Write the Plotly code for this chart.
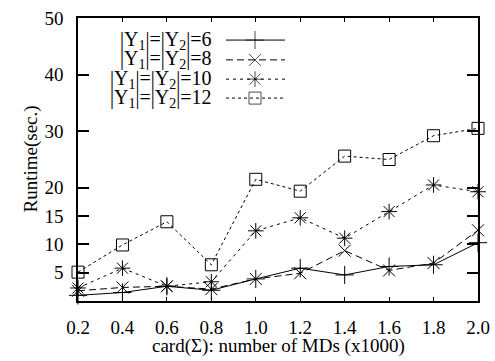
import plotly.graph_objects as go

x_vals = [0.2, 0.4, 0.6, 0.8, 1.0, 1.2, 1.4, 1.6, 1.8, 2.0]
y6 = [1.0, 1.5, 2.6, 1.9, 3.9, 5.8, 4.6, 6.1, 6.4, 10.3]
y8 = [1.8, 2.4, 2.6, 2.1, 3.9, 4.9, 8.9, 5.4, 6.7, 12.5]
y10 = [2.3, 5.8, 2.6, 3.4, 12.4, 14.7, 11.1, 15.8, 20.5, 19.3]
y12 = [5.1, 9.9, 14.0, 6.4, 21.5, 19.4, 25.6, 25.0, 29.2, 30.5]
labels = ["|Y<sub>1</sub>|=|Y<sub>2</sub>|=6", "|Y<sub>1</sub>|=|Y<sub>2</sub>|=8",
          "|Y<sub>1</sub>|=|Y<sub>2</sub>|=10", "|Y<sub>1</sub>|=|Y<sub>2</sub>|=12"]
x_ticks = [0.2, 0.4, 0.6, 0.8, 1.0, 1.2, 1.4, 1.6, 1.8, 2.0]
x_ticktext = ["0.2", "0.4", "0.6", "0.8", "1.0", "1.2", "1.4", "1.6", "1.8", "2.0"]
y_ticks = [5, 10, 15, 20, 30, 40, 50]
x_title = "card(Σ): number of MDs (x1000)"
y_title = "Runtime(sec.)"

FONT = "Liberation Serif, Times New Roman, serif"
FS = 19
styles = [
    dict(dash="solid", symbol="cross-thin-open", size=13),
    dict(dash="7px,4px", symbol="x-thin-open", size=12),
    dict(dash="3px,4px", symbol="asterisk-open", size=13),
    dict(dash="dot", symbol="square-open", size=12),
]
series = [y6, y8, y10, y12]

fig = go.Figure()
for ys, st, lab in zip(series, styles, labels):
    fig.add_trace(go.Scatter(
        x=x_vals, y=ys, mode="lines+markers", showlegend=False, name=lab,
        line=dict(color="black", width=1, dash=st["dash"]),
        marker=dict(symbol=st["symbol"], size=st["size"], color="black",
                    line=dict(color="black", width=1)),
        cliponaxis=False,
    ))

# manual legend (text left, sample right) in an overlay axis spanning the plot area
leg_rows = [0.922, 0.852, 0.784, 0.717]
for st, lab, ry in zip(styles, labels, leg_rows):
    fig.add_trace(go.Scatter(
        x=[0.37, 0.4425, 0.5175], y=[ry, ry, ry], xaxis="x2", yaxis="y2",
        mode="lines+markers", showlegend=False, hoverinfo="skip",
        line=dict(color="black", width=1, dash=st["dash"]),
        marker=dict(symbol=st["symbol"], size=[0, st["size"], 0], color="black",
                    line=dict(color="black", width=1)),
    ))
    fig.add_annotation(xref="x2", yref="y2", x=0.3375, y=ry, text=lab,
                       showarrow=False, xanchor="right", yanchor="middle",
                       font=dict(family=FONT, size=20, color="black"))

# axis titles
fig.add_annotation(xref="paper", yref="paper", x=0.5, y=0, yshift=-45,
                   text=x_title, showarrow=False, xanchor="center", yanchor="middle",
                   font=dict(family=FONT, size=FS, color="black"))
fig.add_annotation(xref="paper", yref="paper", x=0, y=0.5, xshift=-48,
                   text=y_title, showarrow=False, textangle=-90,
                   xanchor="center", yanchor="middle",
                   font=dict(family=FONT, size=FS, color="black"))

fig.update_layout(
    width=495, height=361,
    margin=dict(l=78, r=17, t=18, b=60, autoexpand=False),
    paper_bgcolor="white", plot_bgcolor="white",
    font=dict(family=FONT, size=FS, color="black"),
    xaxis=dict(
        range=[0.2, 2.0], tickvals=x_ticks, ticktext=x_ticktext,
        ticks="inside", ticklen=4, tickwidth=1, tickcolor="black",
        showline=True, linecolor="black", linewidth=1.5, mirror="ticks",
        showgrid=False, zeroline=False, ticklabelstandoff=8, automargin=False,
        tickfont=dict(family=FONT, size=FS),
    ),
    yaxis=dict(
        range=[0, 50], tickvals=y_ticks,
        ticks="inside", ticklen=11, tickwidth=1.5, tickcolor="black",
        showline=True, linecolor="black", linewidth=1.5, mirror="ticks",
        showgrid=False, zeroline=False, ticklabelstandoff=9, automargin=False,
        tickfont=dict(family=FONT, size=FS),
    ),
    xaxis2=dict(overlaying="x", range=[0, 1], visible=False, fixedrange=True),
    yaxis2=dict(overlaying="y", range=[0, 1], visible=False, fixedrange=True),
)

fig.write_html("out.html")
